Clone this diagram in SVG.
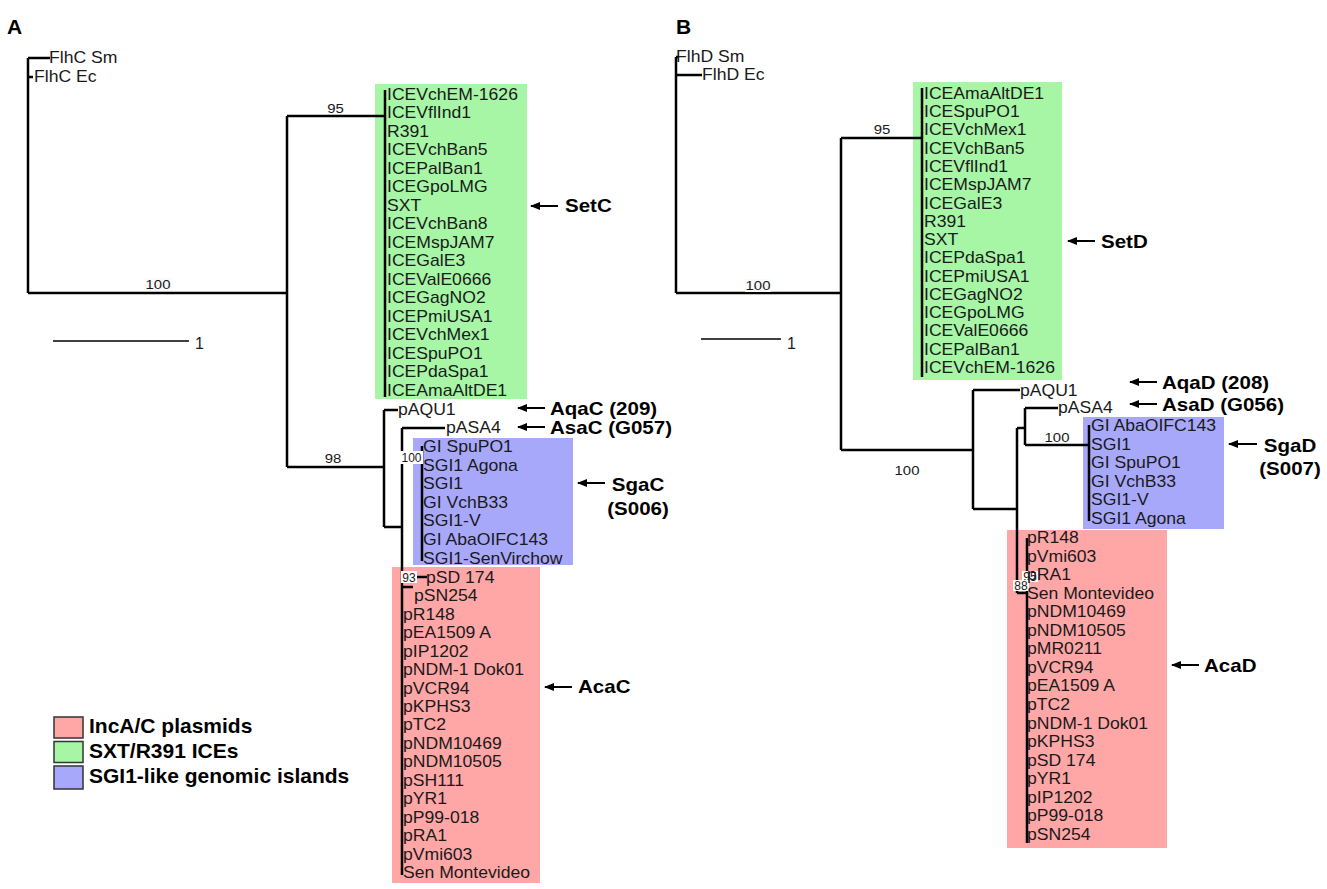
<svg xmlns="http://www.w3.org/2000/svg" width="1327" height="889" viewBox="0 0 1327 889">
<style>
.t{font-family:"Liberation Sans",Arial,sans-serif;font-size:16px;fill:#1a1a1a}
.b{font-family:"Liberation Sans",Arial,sans-serif;font-weight:bold;font-size:18px;fill:#000}
.lg{font-family:"Liberation Sans",Arial,sans-serif;font-weight:bold;font-size:21px;fill:#000}
.s{font-family:"Liberation Sans",Arial,sans-serif;font-size:13px;fill:#1a1a1a}
.bx{font-family:"Liberation Sans",Arial,sans-serif;font-size:12px;fill:#1a1a1a}
.tree{fill:none;stroke:#000;stroke-width:2.5}
.arr{stroke:#000;stroke-width:2;marker-end:url(#ah)}
.g{fill:#a6f6a6}.r{fill:#ffa6a6}.v{fill:#a8a8fa}
.lbox{stroke:#333;stroke-width:1.5}
</style>
<defs>
<marker id="ah" markerWidth="10" markerHeight="8" refX="9" refY="4" orient="auto" markerUnits="userSpaceOnUse">
<path d="M0,0 L10,4 L0,8 Z" fill="#000"/>
</marker>
</defs>
<rect width="1327" height="889" fill="#fff"/>

<!-- Panel A -->
<text class="lg" x="7" y="34">A</text>
<g id="A-boxes">
<rect class="g" x="375" y="84" width="152" height="315"/>
<rect class="v" x="413" y="438" width="160" height="127"/>
<rect class="r" x="392" y="567" width="148" height="316"/>
</g>
<g id="A-connectors">
<path class="tree" d="M28 58V293M28 58H50M28 77H33M28 293H287M287 116V467M287 116H385M385 90V397M287 467H384M384 410V527M384 410H398M384 527H402M402 428V875M402 428H445M402 458H422M422 446V561M417 577H427M402 587H413"/>
<path d="M53 341H189" stroke="#000" stroke-width="1.6"/>
</g>
<text class="t" x="195" y="349">1</text>
<g id="A-support">
<g transform="translate(335.5 0) scale(1.15 1)"><text class="s" text-anchor="middle" y="113">95</text></g>
<rect x="145" y="278" width="26" height="13" fill="#fafafa"/>
<g transform="translate(158 0) scale(1.15 1)"><text class="s" text-anchor="middle" y="289">100</text></g>
<g transform="translate(333 0) scale(1.15 1)"><text class="s" text-anchor="middle" y="463">98</text></g>
<rect x="400" y="451" width="23" height="13" fill="#fff"/>
<text class="bx" x="411.5" y="462" text-anchor="middle">100</text>
<rect x="401" y="571" width="16" height="12" fill="#fff"/>
<text class="bx" x="409" y="581.5" text-anchor="middle">93</text>
</g>
<g id="A-outgroup">
<g transform="translate(49 0) scale(1.1 1)"><text class="t" y="63">FlhC Sm</text></g>
<g transform="translate(34 0) scale(1.1 1)"><text class="t" y="82">FlhC Ec</text></g>
</g>
<g id="A-SXT" transform="translate(387 0) scale(1.1 1)">
<text class="t" y="100">ICEVchEM-1626</text>
<text class="t" y="118.5">ICEVflInd1</text>
<text class="t" y="137">R391</text>
<text class="t" y="155.5">ICEVchBan5</text>
<text class="t" y="174">ICEPalBan1</text>
<text class="t" y="192.5">ICEGpoLMG</text>
<text class="t" y="211">SXT</text>
<text class="t" y="229.5">ICEVchBan8</text>
<text class="t" y="248">ICEMspJAM7</text>
<text class="t" y="266.5">ICEGalE3</text>
<text class="t" y="285">ICEValE0666</text>
<text class="t" y="303.5">ICEGagNO2</text>
<text class="t" y="322">ICEPmiUSA1</text>
<text class="t" y="340.5">ICEVchMex1</text>
<text class="t" y="359">ICESpuPO1</text>
<text class="t" y="377.5">ICEPdaSpa1</text>
<text class="t" y="396">ICEAmaAltDE1</text>
</g>
<g id="A-pAQU1" transform="translate(398 0) scale(1.1 1)"><text class="t" y="415">pAQU1</text></g>
<g id="A-pASA4" transform="translate(446 0) scale(1.1 1)"><text class="t" y="433">pASA4</text></g>
<g id="A-SGI" transform="translate(423 0) scale(1.1 1)">
<text class="t" y="452">GI SpuPO1</text>
<text class="t" y="470.6">SGI1 Agona</text>
<text class="t" y="489.2">SGI1</text>
<text class="t" y="507.8">GI VchB33</text>
<text class="t" y="526.4">SGI1-V</text>
<text class="t" y="545">GI AbaOIFC143</text>
<text class="t" y="563.6">SGI1-SenVirchow</text>
</g>
<g id="A-IncAC">
<g transform="translate(426 0) scale(1.1 1)"><text class="t" y="583">pSD 174</text></g>
<g transform="translate(414 0) scale(1.1 1)"><text class="t" y="601.4">pSN254</text></g>
<g transform="translate(403 0) scale(1.1 1)">
<text class="t" y="619.9">pR148</text>
<text class="t" y="638.3">pEA1509 A</text>
<text class="t" y="656.8">pIP1202</text>
<text class="t" y="675.2">pNDM-1 Dok01</text>
<text class="t" y="693.6">pVCR94</text>
<text class="t" y="712.1">pKPHS3</text>
<text class="t" y="730.5">pTC2</text>
<text class="t" y="749">pNDM10469</text>
<text class="t" y="767.4">pNDM10505</text>
<text class="t" y="785.8">pSH111</text>
<text class="t" y="804.3">pYR1</text>
<text class="t" y="822.7">pP99-018</text>
<text class="t" y="841.2">pRA1</text>
<text class="t" y="859.6">pVmi603</text>
<text class="t" y="878">Sen Montevideo</text>
</g>
</g>
<g id="A-arrows">
<line class="arr" x1="558" y1="206" x2="531" y2="206"/>
<line class="arr" x1="545" y1="408" x2="518" y2="408"/>
<line class="arr" x1="545" y1="427" x2="518" y2="427"/>
<line class="arr" x1="605" y1="483" x2="578" y2="483"/>
<line class="arr" x1="572" y1="687" x2="545" y2="687"/>
<g transform="translate(565 0) scale(1.14 1)"><text class="b" y="212">SetC</text></g>
<g transform="translate(550 0) scale(1.14 1)"><text class="b" y="415">AqaC (209)</text></g>
<g transform="translate(550 0) scale(1.14 1)"><text class="b" y="434">AsaC (G057)</text></g>
<g transform="translate(638 0) scale(1.14 1)"><text class="b" text-anchor="middle" y="491">SgaC</text><text class="b" text-anchor="middle" y="515">(S006)</text></g>
<g transform="translate(578 0) scale(1.14 1)"><text class="b" y="693">AcaC</text></g>
</g>
<g id="legend">
<rect class="r lbox" x="54" y="717" width="29" height="21"/>
<rect class="g lbox" x="54" y="741.5" width="29" height="21"/>
<rect class="v lbox" x="54" y="766" width="29" height="23"/>
<text class="lg" x="89" y="733">IncA/C plasmids</text>
<text class="lg" x="89" y="758">SXT/R391 ICEs</text>
<text class="lg" x="89" y="783">SGI1-like genomic islands</text>
</g>

<!-- Panel B -->
<text class="lg" x="676" y="34">B</text>
<g id="B-boxes">
<rect class="g" x="913" y="82" width="149" height="298"/>
<rect class="v" x="1083" y="417" width="141" height="112"/>
<rect class="r" x="1007" y="530" width="160" height="318"/>
</g>
<g id="B-connectors">
<path class="tree" d="M676 57V293M676 57H679M676 75H702M676 293H841M841 138V450M841 138H923M922 88V377M841 450H973M973 390V509M973 390H1020M973 509H1017M1017 428V593M1017 428H1025M1025 408V445M1025 408H1058M1025 445H1089M1089 425V521M1017 593H1027M1027 538V843"/>
<path d="M701 339H781" stroke="#000" stroke-width="1.6"/>
</g>
<text class="t" x="787" y="349">1</text>
<g id="B-support">
<g transform="translate(882 0) scale(1.15 1)"><text class="s" text-anchor="middle" y="134">95</text></g>
<rect x="745" y="279" width="26" height="13" fill="#fafafa"/>
<g transform="translate(758 0) scale(1.15 1)"><text class="s" text-anchor="middle" y="290">100</text></g>
<g transform="translate(907 0) scale(1.15 1)"><text class="s" text-anchor="middle" y="475">100</text></g>
<g transform="translate(1057 0) scale(1.15 1)"><text class="s" text-anchor="middle" y="442">100</text></g>
<rect x="1022" y="571" width="16" height="11" fill="#fff"/>
<text class="bx" x="1030" y="580.5" text-anchor="middle">95</text>
<rect x="1013" y="580" width="16" height="11" fill="#fff"/>
<text class="bx" x="1021" y="589.5" text-anchor="middle">88</text>
</g>
<g id="B-outgroup">
<g transform="translate(676 0) scale(1.1 1)"><text class="t" y="62">FlhD Sm</text></g>
<g transform="translate(702 0) scale(1.1 1)"><text class="t" y="80">FlhD Ec</text></g>
</g>
<g id="B-SXT" transform="translate(924 0) scale(1.1 1)">
<text class="t" y="99">ICEAmaAltDE1</text>
<text class="t" y="117.3">ICESpuPO1</text>
<text class="t" y="135.5">ICEVchMex1</text>
<text class="t" y="153.8">ICEVchBan5</text>
<text class="t" y="172.1">ICEVflInd1</text>
<text class="t" y="190.4">ICEMspJAM7</text>
<text class="t" y="208.6">ICEGalE3</text>
<text class="t" y="226.9">R391</text>
<text class="t" y="245.2">SXT</text>
<text class="t" y="263.4">ICEPdaSpa1</text>
<text class="t" y="281.7">ICEPmiUSA1</text>
<text class="t" y="300">ICEGagNO2</text>
<text class="t" y="318.2">ICEGpoLMG</text>
<text class="t" y="336.5">ICEValE0666</text>
<text class="t" y="354.8">ICEPalBan1</text>
<text class="t" y="373">ICEVchEM-1626</text>
</g>
<g id="B-pAQU1" transform="translate(1020 0) scale(1.1 1)"><text class="t" y="396">pAQU1</text></g>
<g id="B-pASA4" transform="translate(1058 0) scale(1.1 1)"><text class="t" y="413">pASA4</text></g>
<g id="B-SGI" transform="translate(1091 0) scale(1.1 1)">
<text class="t" y="431">GI AbaOIFC143</text>
<text class="t" y="449.6">SGI1</text>
<text class="t" y="468.2">GI SpuPO1</text>
<text class="t" y="486.8">GI VchB33</text>
<text class="t" y="505.4">SGI1-V</text>
<text class="t" y="524">SGI1 Agona</text>
</g>
<g id="B-IncAC" transform="translate(1027 0) scale(1.1 1)">
<text class="t" y="543">pR148</text>
<text class="t" y="561.6">pVmi603</text>
<text class="t" y="580.1">pRA1</text>
<text class="t" y="598.7">Sen Montevideo</text>
<text class="t" y="617.2">pNDM10469</text>
<text class="t" y="635.8">pNDM10505</text>
<text class="t" y="654.4">pMR0211</text>
<text class="t" y="672.9">pVCR94</text>
<text class="t" y="691.5">pEA1509 A</text>
<text class="t" y="710">pTC2</text>
<text class="t" y="728.6">pNDM-1 Dok01</text>
<text class="t" y="747.2">pKPHS3</text>
<text class="t" y="765.7">pSD 174</text>
<text class="t" y="784.3">pYR1</text>
<text class="t" y="802.8">pIP1202</text>
<text class="t" y="821.4">pP99-018</text>
<text class="t" y="840">pSN254</text>
</g>
<g id="B-arrows">
<line class="arr" x1="1095" y1="241" x2="1068" y2="241"/>
<line class="arr" x1="1157" y1="382" x2="1130" y2="382"/>
<line class="arr" x1="1157" y1="404" x2="1130" y2="404"/>
<line class="arr" x1="1257" y1="444" x2="1229" y2="444"/>
<line class="arr" x1="1199" y1="665" x2="1172" y2="665"/>
<g transform="translate(1101 0) scale(1.14 1)"><text class="b" y="248">SetD</text></g>
<g transform="translate(1162 0) scale(1.14 1)"><text class="b" y="389">AqaD (208)</text></g>
<g transform="translate(1162 0) scale(1.14 1)"><text class="b" y="411">AsaD (G056)</text></g>
<g transform="translate(1290 0) scale(1.14 1)"><text class="b" text-anchor="middle" y="452">SgaD</text><text class="b" text-anchor="middle" y="475">(S007)</text></g>
<g transform="translate(1204 0) scale(1.14 1)"><text class="b" y="672">AcaD</text></g>
</g>
</svg>
